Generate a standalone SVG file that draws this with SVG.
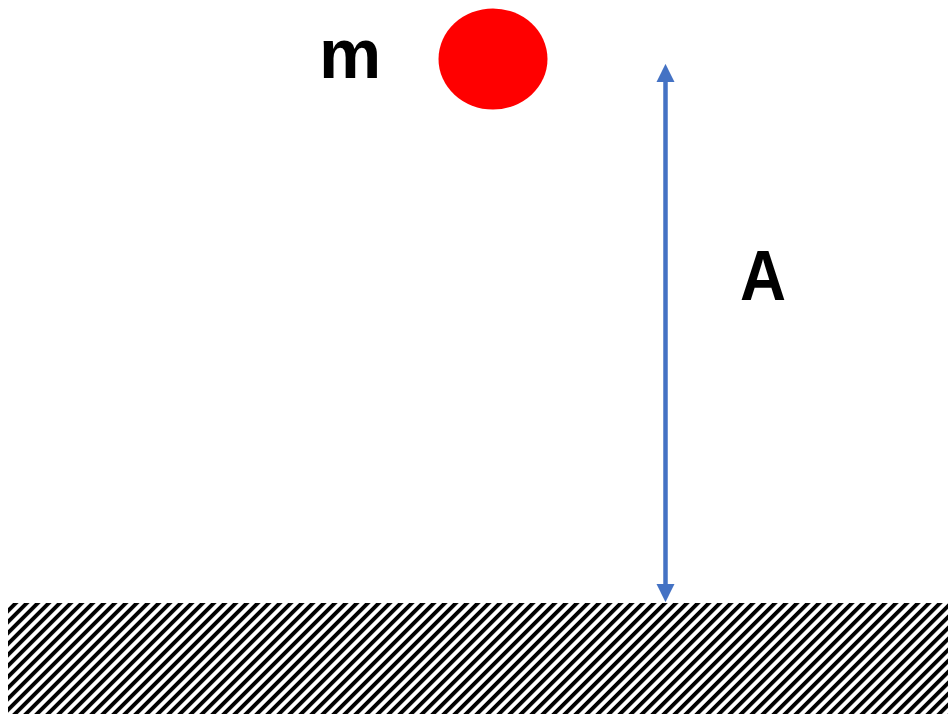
<svg xmlns="http://www.w3.org/2000/svg" width="948" height="714" viewBox="0 0 948 714">
  <style>
    .lbl { font-family: "Liberation Sans", Arial, sans-serif; font-weight: bold; fill: #000; }
    .dim { stroke: #4472C4; stroke-width: 4.5; fill: none; }
  </style>
  <defs>
    <pattern id="hatch" patternUnits="userSpaceOnUse" width="7.78" height="10" patternTransform="rotate(45)">
      <rect x="0" y="0" width="3.8" height="10" fill="#000"/>
    </pattern>
    <marker id="ah" viewBox="0 0 10 10" refX="0.5" refY="5" markerUnits="userSpaceOnUse" markerWidth="18" markerHeight="19" orient="auto-start-reverse">
      <path d="M0,0 L10,5 L0,10 Z" fill="#4472C4"/>
    </marker>
  </defs>
  <rect width="948" height="714" fill="#fff"/>
  <g id="ground">
    <rect x="8" y="603" width="940" height="111" fill="url(#hatch)"/>
  </g>
  <g id="mass">
    <ellipse cx="493" cy="59" rx="54.5" ry="50.5" fill="#FF0000"/>
  </g>
  <g id="label-m">
    <text class="lbl" x="350" y="78" font-size="70" text-anchor="middle">m</text>
  </g>
  <g id="label-A">
    <text class="lbl" x="763" y="300" font-size="71" text-anchor="middle" textLength="46" lengthAdjust="spacingAndGlyphs">A</text>
  </g>
  <g id="connectors">
    <line class="dim" x1="665.5" y1="81" x2="665.5" y2="585" marker-start="url(#ah)" marker-end="url(#ah)"/>
  </g>
</svg>
